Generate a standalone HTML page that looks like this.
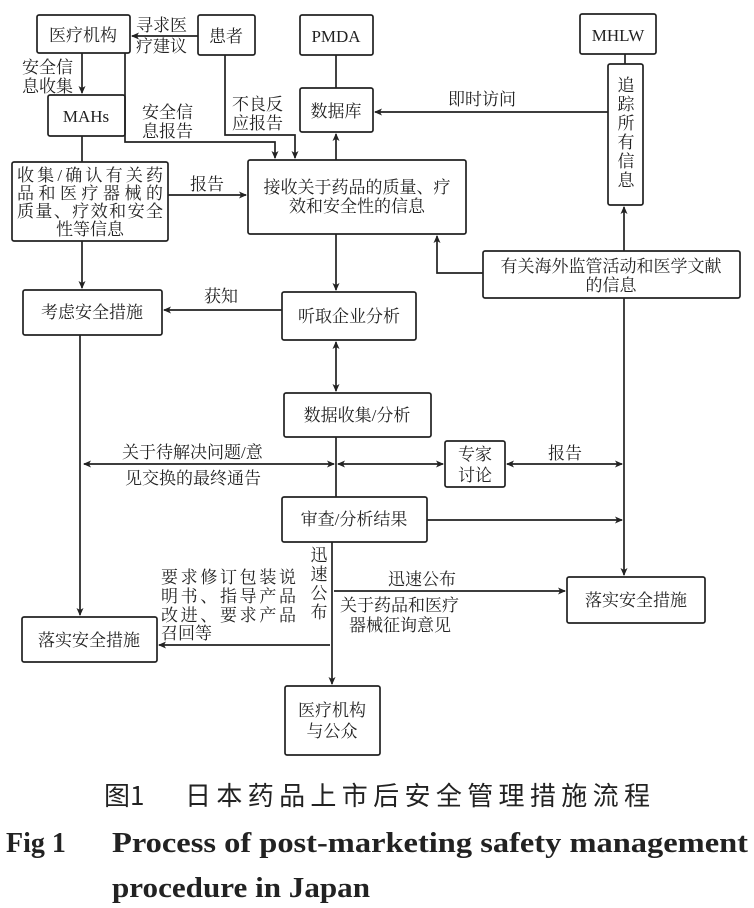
<!DOCTYPE html>
<html><head><meta charset="utf-8"><style>
html,body{margin:0;padding:0;background:#fff;}
svg{display:block;}
text{font-family:"Liberation Serif","Noto Serif CJK SC",serif;fill:#222;}
</style></head><body>
<svg width="754" height="908" viewBox="0 0 754 908" xmlns="http://www.w3.org/2000/svg">
<defs>
<marker id="a" markerWidth="8" markerHeight="8" refX="7" refY="4" orient="auto-start-reverse" markerUnits="userSpaceOnUse">
<path d="M0,0.5 L8,4 L0,7.5 L2,4 z" fill="#222"/></marker>
</defs>
<g fill="none" stroke="#222" stroke-width="1.7">
<rect x="37" y="15" width="93" height="38" rx="2"/>
<rect x="198" y="15" width="57" height="40" rx="2"/>
<rect x="300" y="15" width="73" height="40" rx="2"/>
<rect x="580" y="14" width="76" height="40" rx="2"/>
<rect x="48" y="95" width="77" height="41" rx="2"/>
<rect x="300" y="88" width="73" height="44" rx="2"/>
<rect x="608" y="64" width="35" height="141" rx="2"/>
<rect x="12" y="162" width="156" height="79" rx="2"/>
<rect x="248" y="160" width="218" height="74" rx="2"/>
<rect x="483" y="251" width="257" height="47" rx="2"/>
<rect x="23" y="290" width="139" height="45" rx="2"/>
<rect x="282" y="292" width="134" height="48" rx="2"/>
<rect x="284" y="393" width="147" height="44" rx="2"/>
<rect x="445" y="441" width="60" height="46" rx="2"/>
<rect x="282" y="497" width="145" height="45" rx="2"/>
<rect x="567" y="577" width="138" height="46" rx="2"/>
<rect x="22" y="617" width="135" height="45" rx="2"/>
<rect x="285" y="686" width="95" height="69" rx="2"/>

<path d="M198,36 H132" marker-end="url(#a)"/>
<path d="M82,53 V93" marker-end="url(#a)"/>
<path d="M125,53 V142 H275 V158" marker-end="url(#a)"/>
<path d="M225,55 V135 H295 V158" marker-end="url(#a)"/>
<path d="M82,136 V162"/>
<path d="M82,241 V288" marker-end="url(#a)"/>
<path d="M168,195 H246" marker-end="url(#a)"/>
<path d="M336,160 V134" marker-end="url(#a)"/>
<path d="M336,55 V88"/>
<path d="M608,112 H375" marker-end="url(#a)"/>
<path d="M625,54 V64"/>
<path d="M483,273 H437 V236" marker-end="url(#a)"/>
<path d="M624,251 V207" marker-end="url(#a)"/>
<path d="M624,298 V575" marker-end="url(#a)"/>
<path d="M336,234 V290" marker-end="url(#a)"/>
<path d="M282,310 H164" marker-end="url(#a)"/>
<path d="M336,342 V391" marker-start="url(#a)" marker-end="url(#a)"/>
<path d="M80,335 V615" marker-end="url(#a)"/>
<path d="M84,464 H334" marker-start="url(#a)" marker-end="url(#a)"/>
<path d="M338,464 H443" marker-start="url(#a)" marker-end="url(#a)"/>
<path d="M507,464 H622" marker-start="url(#a)" marker-end="url(#a)"/>
<path d="M336,437 V497"/>
<path d="M427,520 H622" marker-end="url(#a)"/>
<path d="M332,542 V684" marker-end="url(#a)"/>
<path d="M334,591 H565" marker-end="url(#a)"/>
<path d="M330,645 H159" marker-end="url(#a)"/>
</g>
<g font-size="17">
<text x="83" y="41" text-anchor="middle">医疗机构</text>
<text x="226" y="42" text-anchor="middle">患者</text>
<text x="336" y="42" text-anchor="middle">PMDA</text>
<text x="618" y="41" text-anchor="middle">MHLW</text>
<text x="86" y="122" text-anchor="middle">MAHs</text>
<text x="336" y="117" text-anchor="middle">数据库</text>
<text x="136" y="31">寻求医</text>
<text x="136" y="52">疗建议</text>
<text x="22" y="73">安全信</text>
<text x="22" y="92">息收集</text>
<text x="142" y="118">安全信</text>
<text x="142" y="137">息报告</text>
<text x="232" y="110">不良反</text>
<text x="232" y="129">应报告</text>
<text x="448" y="105">即时访问</text>
<g text-anchor="middle"><text x="626" y="91">追</text><text x="626" y="110">踪</text><text x="626" y="129">所</text><text x="626" y="148">有</text><text x="626" y="167">信</text><text x="626" y="186">息</text></g>
<text x="90" y="181" text-anchor="middle" textLength="146" lengthAdjust="spacing">收集/确认有关药</text>
<text x="90" y="199" text-anchor="middle" textLength="146" lengthAdjust="spacing">品和医疗器械的</text>
<text x="90" y="217" text-anchor="middle" textLength="146" lengthAdjust="spacing">质量、疗效和安全</text>
<text x="90" y="235" text-anchor="middle">性等信息</text>
<text x="190" y="190">报告</text>
<text x="357" y="193" text-anchor="middle">接收关于药品的质量、疗</text>
<text x="357" y="212" text-anchor="middle">效和安全性的信息</text>
<text x="611" y="272" text-anchor="middle">有关海外监管活动和医学文献</text>
<text x="611" y="291" text-anchor="middle">的信息</text>
<text x="92" y="318" text-anchor="middle">考虑安全措施</text>
<text x="204" y="302">获知</text>
<text x="349" y="322" text-anchor="middle">听取企业分析</text>
<text x="357" y="421" text-anchor="middle">数据收集/分析</text>
<text x="475" y="460" text-anchor="middle">专家</text>
<text x="475" y="481" text-anchor="middle">讨论</text>
<text x="122" y="458">关于待解决问题/意</text>
<text x="125" y="484">见交换的最终通告</text>
<text x="548" y="459">报告</text>
<text x="354" y="525" text-anchor="middle">审查/分析结果</text>
<g text-anchor="middle"><text x="319" y="561">迅</text><text x="319" y="580">速</text><text x="319" y="599">公</text><text x="319" y="618">布</text></g>
<text x="388" y="585">迅速公布</text>
<text x="340" y="611">关于药品和医疗</text>
<text x="349" y="631">器械征询意见</text>
<text x="161" y="583" textLength="135" lengthAdjust="spacing">要求修订包装说</text>
<text x="161" y="602" textLength="135" lengthAdjust="spacing">明书、指导产品</text>
<text x="161" y="621" textLength="135" lengthAdjust="spacing">改进、要求产品</text>
<text x="161" y="639">召回等</text>
<text x="636" y="606" text-anchor="middle">落实安全措施</text>
<text x="89" y="646" text-anchor="middle">落实安全措施</text>
<text x="332" y="716" text-anchor="middle">医疗机构</text>
<text x="332" y="737" text-anchor="middle">与公众</text>
</g>
<text x="104" y="805" font-size="26" style="font-family:'Noto Sans CJK SC',sans-serif">图1</text>
<text x="185" y="805" font-size="26" style="font-family:'Noto Sans CJK SC',sans-serif" textLength="465" lengthAdjust="spacing">日本药品上市后安全管理措施流程</text>
<text x="6" y="852" font-size="28" font-weight="bold">Fig 1</text>
<text x="112" y="852" font-size="28" font-weight="bold" textLength="636" lengthAdjust="spacingAndGlyphs">Process of post-marketing safety management</text>
<text x="112" y="897" font-size="28" font-weight="bold" textLength="258" lengthAdjust="spacingAndGlyphs">procedure in Japan</text>
</svg>
</body></html>
